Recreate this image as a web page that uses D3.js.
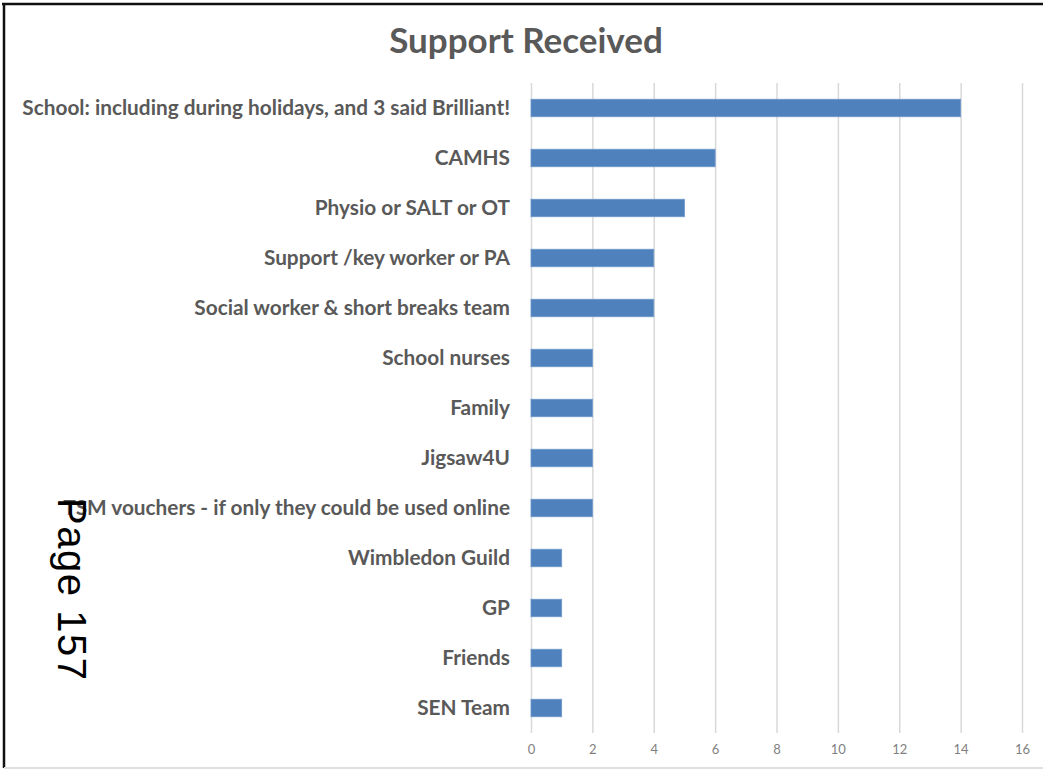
<!DOCTYPE html>
<html>
<head>
<meta charset="utf-8">
<script src="https://cdn.jsdelivr.net/npm/d3@7/dist/d3.min.js"></script>
<style>
  html, body { margin: 0; padding: 0; background: #ffffff; }
  svg { display: block; }
</style>
</head>
<body>
<svg id="chart" width="1043" height="770"></svg>
<script>
const categories = [
  "School: including during holidays, and 3 said Brilliant!",
  "CAMHS",
  "Physio or SALT or OT",
  "Support /key worker or PA",
  "Social worker & short breaks team",
  "School nurses",
  "Family",
  "Jigsaw4U",
  "TSM vouchers - if only they could be used online",
  "Wimbledon Guild",
  "GP",
  "Friends",
  "SEN Team"
];
const values = [14, 6, 5, 4, 4, 2, 2, 2, 2, 1, 1, 1, 1];
const tickValues = [0, 2, 4, 6, 8, 10, 12, 14, 16];
const titleText = "Support Received";
const pageText = "Page 157";

const svg = d3.select("#chart");
const W = 1043, H = 770;
const plot = { left: 531, right: 1022, top: 83, bottom: 733 };

const x = d3.scaleLinear().domain([0, 16]).range([plot.left, plot.right]);
const y = d3.scaleBand().domain(categories).range([plot.top, plot.bottom]).paddingInner(0.65).paddingOuter(0.325);

// frame
svg.append("line").attr("x1", 2).attr("x2", W).attr("y1", 4).attr("y2", 4)
  .attr("stroke", "#111").attr("stroke-width", 2.5);
svg.append("line").attr("x1", 4).attr("x2", 4).attr("y1", 3).attr("y2", 768)
  .attr("stroke", "#111").attr("stroke-width", 2.5);
svg.append("line").attr("x1", 4).attr("x2", W).attr("y1", 768).attr("y2", 768)
  .attr("stroke", "#e0e0e0").attr("stroke-width", 2);

// title
svg.append("text").attr("x", 526).attr("y", 53)
  .attr("text-anchor", "middle")
  .attr("font-family", "Lato, 'Open Sans', sans-serif")
  .attr("font-weight", "bold").attr("font-size", 35)
  .attr("fill", "#595959").text(titleText);

// gridlines via axis
const xAxis = d3.axisBottom(x).tickValues(tickValues).tickSize(-(plot.bottom - plot.top)).tickPadding(12);
const gx = svg.append("g").attr("transform", `translate(0,${plot.bottom})`).call(xAxis);
gx.select(".domain").remove();
gx.selectAll(".tick line").attr("stroke", "#d9d9d9").attr("stroke-width", 1.5);
gx.selectAll(".tick text").attr("fill", "#7f7f7f")
  .attr("font-family", "Lato, 'Open Sans', sans-serif").attr("font-size", 13);

// bars
svg.append("g").selectAll("rect").data(values).join("rect")
  .attr("x", x(0))
  .attr("y", (d, i) => y(categories[i]))
  .attr("width", d => x(d) - x(0))
  .attr("height", y.bandwidth())
  .attr("fill", "#4f81bd")
  .attr("stroke", "#6d98cc").attr("stroke-width", 0.8);

// category labels
const yAxis = d3.axisLeft(y).tickSize(0).tickPadding(21);
const gy = svg.append("g").attr("transform", `translate(${plot.left},0)`).call(yAxis);
gy.select(".domain").remove();
gy.selectAll(".tick text").attr("fill", "#595959")
  .attr("font-family", "Lato, 'Open Sans', sans-serif")
  .attr("font-weight", "bold").attr("font-size", 20.8);

// page stamp
svg.append("text")
  .attr("transform", "translate(58,498) rotate(90)")
  .attr("font-family", "'Liberation Sans', Arial, sans-serif")
  .attr("font-size", 40)
  .attr("textLength", 182).attr("lengthAdjust", "spacing")
  .attr("fill", "#000").text(pageText);
</script>
</body>
</html>
